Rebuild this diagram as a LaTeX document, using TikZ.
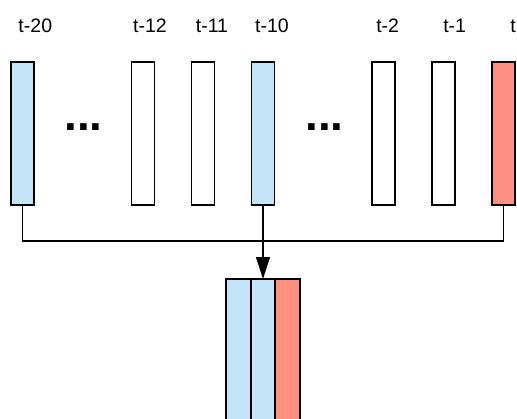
\documentclass[tikz,border=0pt]{standalone}
\usepackage{fontspec}
\setmainfont{Liberation Sans}
\usepackage{xcolor}
\usepackage{tikz}
\usetikzlibrary{arrows.meta, positioning}

\definecolor{pastblue}{RGB}{194,228,246}
\definecolor{nowred}{RGB}{255,143,128}

\begin{document}
\begin{tikzpicture}[
			x=1pt, y=-1pt,
			node distance = 37pt and 37pt,
			stepbox/.style = {rectangle, draw, line width=1.6pt, fill=white,
					minimum width=23pt, minimum height=143pt, inner sep=0pt, outer sep=0pt},
			pickbox/.style = {stepbox, fill=pastblue},
			curbox/.style = {stepbox, fill=nowred},
			stackbox/.style = {minimum width=24.5pt},
			steplabel/.style = {anchor=base, inner sep=0pt,
					font=\fontsize{19.5}{23}\selectfont},
			gapdots/.style = {inner sep=0pt, font=\fontsize{46}{46}\selectfont\bfseries},
			line/.style = {draw, line width=1.4pt},
			arrow/.style = {line, -{Triangle[length=22pt, width=14pt]}},
		]
		\useasboundingbox (0,0) rectangle (517,418);
		\clip (0,0) rectangle (517,418);

		% Time steps
		\node [pickbox] (t20) at (22.5,133.5) {};
		\node [stepbox, right=97.5pt of t20] (t12) {};
		\node [stepbox, right=of t12] (t11) {};
		\node [pickbox, right=of t11] (t10) {};
		\node [stepbox, right=97.5pt of t10] (t2) {};
		\node [stepbox, right=of t2] (t1) {};
		\node [curbox, right=of t1] (t0) {};

		% Skipped steps
		\node [gapdots] (dotsa) at (83.5,127.5) {...};
		\node [gapdots] (dotsb) at (324.5,127.5) {...};

		% Labels
		\node [steplabel] (lt20) at (35.3,32) {t-20};
		\node [steplabel] (lt12) at (150,32) {t-12};
		\node [steplabel] (lt11) at (212,32) {t-11};
		\node [steplabel] (lt10) at (272,32) {t-10};
		\node [steplabel] (lt2) at (387.7,32) {t-2};
		\node [steplabel] (lt1) at (454.7,32) {t-1};
		\node [steplabel] (lt0) at (513,32) {t};

		% Stacked input
		\node [pickbox, stackbox, below=74pt of t10] (mid) {};
		\node [pickbox, stackbox, left=0pt of mid] (left) {};
		\node [curbox, stackbox, right=0pt of mid] (right) {};

		% Draw arrows
		\coordinate [below=36pt of t10.south] (hub);
		\path [line] (t20.south) |- (hub) -| (t0.south);
		\path [arrow] (t10.south) -- (mid.north);

	\end{tikzpicture}
\end{document}
